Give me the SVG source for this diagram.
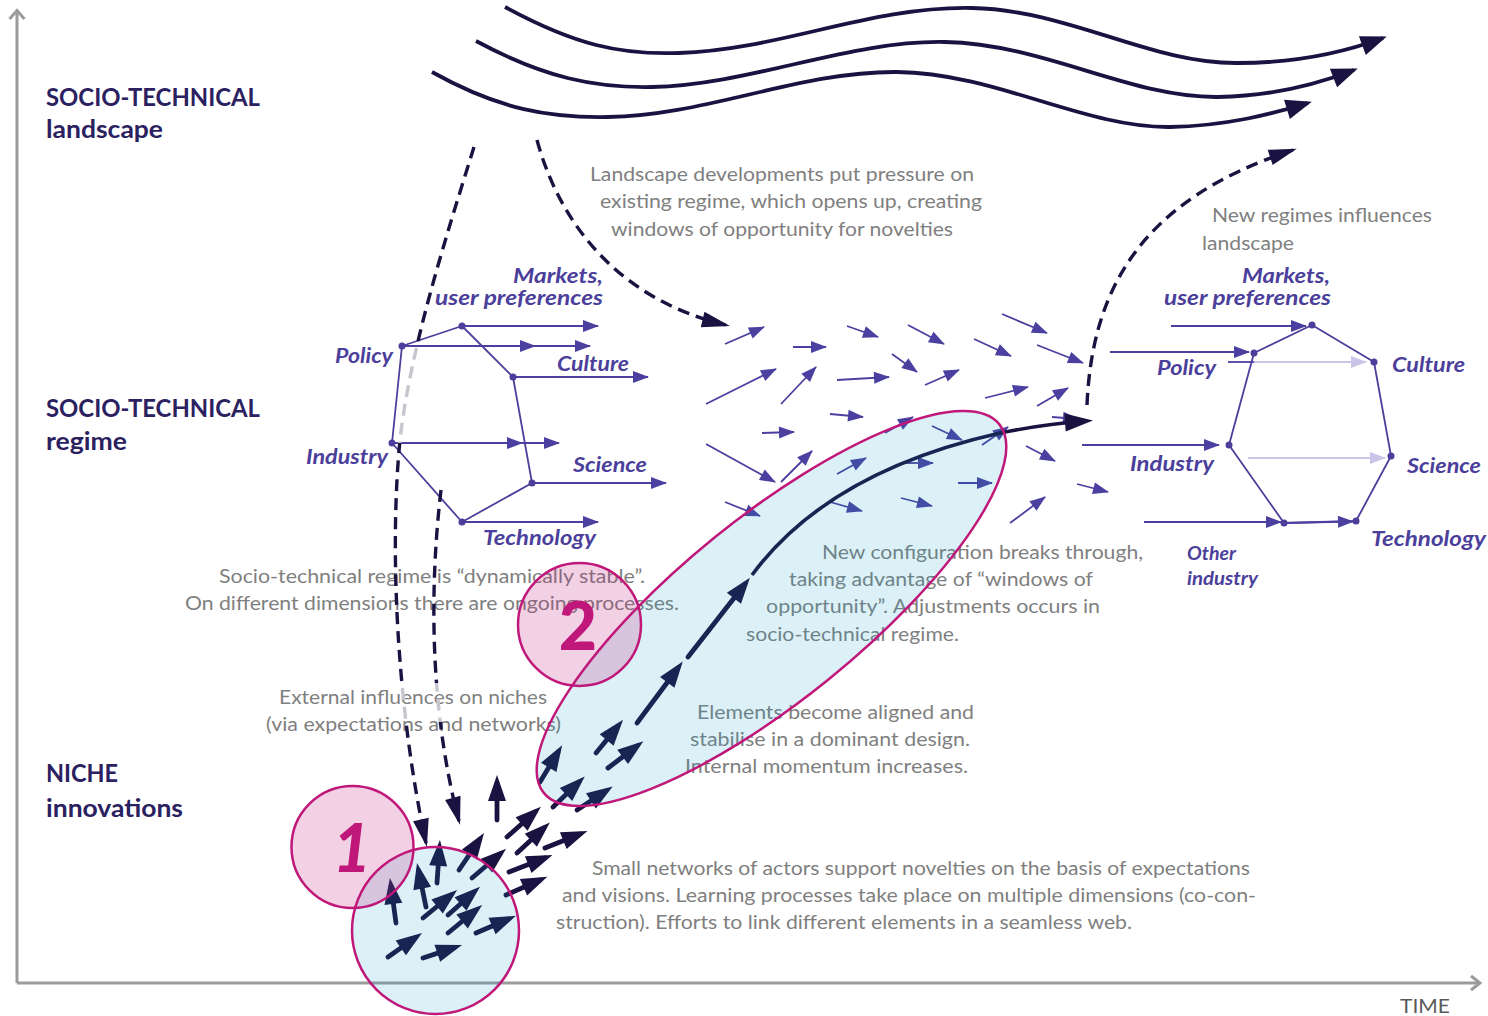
<svg xmlns="http://www.w3.org/2000/svg" width="1488" height="1016" viewBox="0 0 1488 1016">
<defs>
<style>
.gt{font-family:Lato,"Open Sans",sans-serif;font-size:18.5px;fill:#7f7f7f}
.hd{font-family:Lato,"Open Sans",sans-serif;font-weight:700;font-size:25px;fill:#2b2160}
.lb{font-family:Lato,"Open Sans",sans-serif;font-weight:700;font-style:italic;font-size:20px;fill:#4b3f9b}
.lbs{font-family:Lato,"Open Sans",sans-serif;font-weight:700;font-style:italic;font-size:18px;fill:#4b3f9b}
.pl{fill:none;stroke:#4b3f9b;stroke-width:1.8;stroke-linejoin:round}
.pa{fill:none;stroke:#4b40a0;stroke-width:1.8;marker-end:url(#hp)}
.pn{fill:none;stroke:#4b40a0;stroke-width:1.8}
.la{fill:none;stroke:#c9c5e8;stroke-width:1.8;marker-end:url(#hl)}
.dot{fill:#4b3f9b}
.wave{fill:none;stroke:#1a1240;stroke-width:3.8;marker-end:url(#hw)}
.dash{fill:none;stroke:#1a1240;stroke-width:3.4;stroke-dasharray:12 7}
.dashl{fill:none;stroke:#c6c6ce;stroke-width:3.4;stroke-dasharray:12 7}
.na{fill:none;stroke:#1a1240;stroke-width:4.8;stroke-linecap:round;marker-end:url(#hn)}
.axis{fill:none;stroke:#9b9b9b;stroke-width:3}
.blue{fill:#0a9bc6;fill-opacity:0.14;stroke:#c0187a;stroke-width:2.5}
.pink{fill:#c0187a;fill-opacity:0.2;stroke:#c0187a;stroke-width:2.5}
.dig{font-family:Lato,"Open Sans",sans-serif;font-weight:900;font-size:66px;fill:#c0187a}
</style>
<marker id="hp" markerUnits="userSpaceOnUse" markerWidth="16" markerHeight="12" refX="15" refY="6" orient="auto" overflow="visible"><path d="M0,0 L16,6 L0,12 z" fill="#4b40a0"/></marker>
<marker id="hl" markerUnits="userSpaceOnUse" markerWidth="16" markerHeight="12" refX="15" refY="6" orient="auto" overflow="visible"><path d="M0,0 L16,6 L0,12 z" fill="#c9c5e8"/></marker>
<marker id="hn" markerUnits="userSpaceOnUse" markerWidth="26" markerHeight="18" refX="18" refY="9" orient="auto" overflow="visible"><path d="M0,0 L26,9 L0,18 z" fill="#1a1240"/></marker>
<marker id="hd" markerUnits="userSpaceOnUse" markerWidth="28" markerHeight="16" refX="24" refY="8" orient="auto" overflow="visible"><path d="M0,0 L28,8 L0,16 z" fill="#1a1240"/></marker>
<marker id="hw" markerUnits="userSpaceOnUse" markerWidth="26" markerHeight="20" refX="22" refY="10" orient="auto" overflow="visible"><path d="M0,0 L26,10 L0,20 z" fill="#1a1240"/></marker>
<marker id="hm" markerUnits="userSpaceOnUse" markerWidth="28" markerHeight="18" refX="20" refY="9" orient="auto" overflow="visible"><path d="M0,0 L28,9 L0,18 z" fill="#1a1240"/></marker>
<clipPath id="clipLight"><rect x="370" y="347" width="110" height="96"/><rect x="370" y="683" width="110" height="39"/></clipPath>
<clipPath id="clipDark"><rect x="0" y="0" width="1488" height="347"/><rect x="0" y="443" width="1488" height="240"/><rect x="0" y="722" width="1488" height="300"/></clipPath>
</defs>

<g id="axes">
<line class="axis" x1="17" y1="983" x2="17" y2="11"/>
<polyline class="axis" stroke-width="2" points="9.5,19 17,10.5 24.5,19"/>
<line class="axis" x1="17" y1="983" x2="1479" y2="983"/>
<polyline class="axis" stroke-width="2" points="1471,976 1480,983 1471,990"/>
<text x="1400" y="1013" textLength="50" lengthAdjust="spacingAndGlyphs" style="font-family:Lato,sans-serif;font-size:20px;fill:#595959">TIME</text>
</g>

<g id="level-labels">
<text class="hd" x="46" y="106" textLength="214" lengthAdjust="spacingAndGlyphs">SOCIO-TECHNICAL</text>
<text class="hd" x="46" y="138" textLength="117" lengthAdjust="spacingAndGlyphs">landscape</text>
<text class="hd" x="46" y="417" textLength="214" lengthAdjust="spacingAndGlyphs">SOCIO-TECHNICAL</text>
<text class="hd" x="46" y="450" textLength="81" lengthAdjust="spacingAndGlyphs">regime</text>
<text class="hd" x="46" y="782" textLength="72" lengthAdjust="spacingAndGlyphs">NICHE</text>
<text class="hd" x="46" y="817" textLength="137" lengthAdjust="spacingAndGlyphs">innovations</text>
</g>

<g id="descriptions">
<text class="gt" x="590" y="181" textLength="384" lengthAdjust="spacingAndGlyphs">Landscape developments put pressure on</text>
<text class="gt" x="600" y="208" textLength="382" lengthAdjust="spacingAndGlyphs">existing regime, which opens up, creating</text>
<text class="gt" x="611" y="236" textLength="342" lengthAdjust="spacingAndGlyphs">windows of opportunity for novelties</text>
<text class="gt" x="1212" y="222" textLength="220" lengthAdjust="spacingAndGlyphs">New regimes influences</text>
<text class="gt" x="1202" y="250" textLength="92" lengthAdjust="spacingAndGlyphs">landscape</text>
<text class="gt" x="219" y="583" textLength="426" lengthAdjust="spacingAndGlyphs">Socio-technical regime is “dynamically stable”.</text>
<text class="gt" x="185" y="610" textLength="494" lengthAdjust="spacingAndGlyphs">On different dimensions there are ongoing processes.</text>
<text class="gt" x="279" y="704" textLength="268" lengthAdjust="spacingAndGlyphs">External influences on niches</text>
<text class="gt" x="266" y="731" textLength="295" lengthAdjust="spacingAndGlyphs">(via expectations and networks)</text>
<text class="gt" x="822" y="559" textLength="321" lengthAdjust="spacingAndGlyphs">New configuration breaks through,</text>
<text class="gt" x="789" y="586" textLength="304" lengthAdjust="spacingAndGlyphs">taking advantage of “windows of</text>
<text class="gt" x="766" y="613" textLength="334" lengthAdjust="spacingAndGlyphs">opportunity”. Adjustments occurs in</text>
<text class="gt" x="746" y="641" textLength="213" lengthAdjust="spacingAndGlyphs">socio-technical regime.</text>
<text class="gt" x="697" y="719" textLength="277" lengthAdjust="spacingAndGlyphs">Elements become aligned and</text>
<text class="gt" x="690" y="746" textLength="280" lengthAdjust="spacingAndGlyphs">stabilise in a dominant design.</text>
<text class="gt" x="685" y="773" textLength="283" lengthAdjust="spacingAndGlyphs">Internal momentum increases.</text>
<text class="gt" x="592" y="875" textLength="658" lengthAdjust="spacingAndGlyphs">Small networks of actors support novelties on the basis of expectations</text>
<text class="gt" x="562" y="902" textLength="694" lengthAdjust="spacingAndGlyphs">and visions. Learning processes take place on multiple dimensions (co-con-</text>
<text class="gt" x="556" y="929" textLength="576" lengthAdjust="spacingAndGlyphs">struction). Efforts to link different elements in a seamless web.</text>
</g>

<g id="regime-old">
<polygon class="pl" points="402,346 462,326 513,377 532,483 462,522 392,443"/>
<line class="pa" x1="462" y1="326" x2="598" y2="326"/>
<line class="pa" x1="402" y1="346" x2="535" y2="346"/>
<line class="pa" x1="535" y1="346" x2="590" y2="346"/>
<line class="pa" x1="513" y1="377" x2="648" y2="377"/>
<line class="pa" x1="392" y1="443" x2="522" y2="443"/>
<line class="pa" x1="522" y1="443" x2="559" y2="443"/>
<line class="pa" x1="532" y1="483" x2="666" y2="483"/>
<line class="pa" x1="462" y1="522" x2="598" y2="522"/>
<circle class="dot" cx="402" cy="346" r="3.5"/>
<circle class="dot" cx="462" cy="326" r="3.5"/>
<circle class="dot" cx="513" cy="377" r="3.5"/>
<circle class="dot" cx="532" cy="483" r="3.5"/>
<circle class="dot" cx="462" cy="522" r="3.5"/>
<circle class="dot" cx="392" cy="443" r="3.5"/>
<text class="lb" x="513" y="283" textLength="90" lengthAdjust="spacingAndGlyphs">Markets,</text>
<text class="lb" x="435" y="305" textLength="168" lengthAdjust="spacingAndGlyphs">user preferences</text>
<text class="lb" x="335" y="363" textLength="58" lengthAdjust="spacingAndGlyphs">Policy</text>
<text class="lb" x="557" y="371" textLength="72" lengthAdjust="spacingAndGlyphs">Culture</text>
<text class="lb" x="306" y="464" textLength="82" lengthAdjust="spacingAndGlyphs">Industry</text>
<text class="lb" x="573" y="472" textLength="74" lengthAdjust="spacingAndGlyphs">Science</text>
<text class="lb" x="483" y="545" textLength="113" lengthAdjust="spacingAndGlyphs">Technology</text>
</g>

<g id="regime-new">
<polygon class="pl" points="1312,325 1374,362 1391,456 1356,521 1284,523 1229,445 1254,353"/>
<line class="pa" x1="1171" y1="326" x2="1306" y2="326"/>
<line class="pa" x1="1110" y1="352" x2="1249" y2="352"/>
<line class="pn" x1="1228" y1="362" x2="1254" y2="362"/>
<line class="la" x1="1254" y1="362" x2="1366" y2="362"/>
<line class="pa" x1="1082" y1="445" x2="1219" y2="445"/>
<line class="la" x1="1248" y1="458" x2="1385" y2="458"/>
<line class="pa" x1="1144" y1="522" x2="1281" y2="522"/>
<line class="pa" x1="1284" y1="523" x2="1353" y2="521.5"/>
<circle class="dot" cx="1312" cy="325" r="3.5"/>
<circle class="dot" cx="1254" cy="353" r="3.5"/>
<circle class="dot" cx="1374" cy="362" r="3.5"/>
<circle class="dot" cx="1229" cy="445" r="3.5"/>
<circle class="dot" cx="1391" cy="456" r="3.5"/>
<circle class="dot" cx="1284" cy="523" r="3.5"/>
<circle class="dot" cx="1356" cy="521" r="3.5"/>
<text class="lb" x="1242" y="283" textLength="88" lengthAdjust="spacingAndGlyphs">Markets,</text>
<text class="lb" x="1164" y="305" textLength="167" lengthAdjust="spacingAndGlyphs">user preferences</text>
<text class="lb" x="1157" y="375" textLength="59" lengthAdjust="spacingAndGlyphs">Policy</text>
<text class="lb" x="1392" y="372" textLength="73" lengthAdjust="spacingAndGlyphs">Culture</text>
<text class="lb" x="1130" y="471" textLength="84" lengthAdjust="spacingAndGlyphs">Industry</text>
<text class="lb" x="1407" y="473" textLength="74" lengthAdjust="spacingAndGlyphs">Science</text>
<text class="lb" x="1371" y="546" textLength="115" lengthAdjust="spacingAndGlyphs">Technology</text>
<text class="lbs" x="1187" y="560" textLength="49" lengthAdjust="spacingAndGlyphs">Other</text>
<text class="lbs" x="1187" y="585" textLength="71" lengthAdjust="spacingAndGlyphs">industry</text>
</g>

<g id="regime-field">
<line class="pa" x1="725" y1="344" x2="764" y2="327"/>
<line class="pa" x1="793" y1="347" x2="826" y2="347"/>
<line class="pa" x1="847" y1="326" x2="878" y2="337"/>
<line class="pa" x1="908" y1="325" x2="944" y2="344"/>
<line class="pa" x1="1002" y1="314" x2="1047" y2="333"/>
<line class="pa" x1="706" y1="404" x2="776" y2="369"/>
<line class="pa" x1="781" y1="404" x2="816" y2="367"/>
<line class="pa" x1="837" y1="380" x2="889" y2="377"/>
<line class="pa" x1="892" y1="354" x2="917" y2="372"/>
<line class="pa" x1="925" y1="385" x2="959" y2="370"/>
<line class="pa" x1="974" y1="339" x2="1011" y2="356"/>
<line class="pa" x1="1037" y1="345" x2="1083" y2="363"/>
<line class="pa" x1="985" y1="398" x2="1028" y2="387"/>
<line class="pa" x1="1037" y1="406" x2="1068" y2="388"/>
<line class="pa" x1="830" y1="414" x2="863" y2="417"/>
<line class="pa" x1="762" y1="433" x2="794" y2="432"/>
<line class="pa" x1="706" y1="444" x2="775" y2="482"/>
<line class="pa" x1="781" y1="482" x2="812" y2="451"/>
<line class="pa" x1="885" y1="433" x2="913" y2="417"/>
<line class="pa" x1="932" y1="426" x2="962" y2="440"/>
<line class="pa" x1="982" y1="445" x2="1008" y2="427"/>
<line class="pa" x1="1052" y1="417" x2="1078" y2="419"/>
<line class="pa" x1="837" y1="474" x2="866" y2="458"/>
<line class="pa" x1="901" y1="463" x2="933" y2="463"/>
<line class="pa" x1="958" y1="483" x2="992" y2="483"/>
<line class="pa" x1="1026" y1="446" x2="1055" y2="461"/>
<line class="pa" x1="1077" y1="484" x2="1108" y2="492"/>
<line class="pa" x1="725" y1="502" x2="760" y2="516"/>
<line class="pa" x1="830" y1="502" x2="862" y2="511"/>
<line class="pa" x1="901" y1="498" x2="932" y2="506"/>
<line class="pa" x1="1010" y1="523" x2="1045" y2="497"/>
</g>

<g id="landscape">
<path class="wave" d="M505,7 C575,45 620,55 679,53 C780,50 870,6 972,8 C1070,10 1150,64 1238,63 C1295,63 1345,52 1383,38"/>
<path class="wave" d="M476,41 C545,78 595,88 652,87 C750,85 850,40 945,42 C1045,44 1130,98 1218,97 C1272,96 1318,84 1354,70"/>
<path class="wave" d="M432,72 C500,110 550,118 608,117 C705,116 800,71 897,72 C995,73 1085,128 1170,127 C1226,126 1272,114 1308,103"/>
</g>

<g id="connectors">
<g clip-path="url(#clipDark)">
<path class="dash" marker-end="url(#hd)" d="M474,147 C445,240 410,350 400,440 C390,540 395,700 426,843"/>
<path class="dash" marker-end="url(#hd)" d="M441,490 C428,600 432,720 459,821"/>
</g>
<g clip-path="url(#clipLight)">
<path class="dashl" d="M474,147 C445,240 410,350 400,440 C390,540 395,700 426,843"/>
<path class="dashl" d="M441,490 C428,600 432,720 459,821"/>
</g>
<path class="dash" marker-end="url(#hd)" d="M537,140 C560,225 620,300 726,325"/>
<path class="dash" marker-end="url(#hd)" d="M1087,405 C1092,290 1140,200 1293,150"/>
</g>

<g id="niche-arrows">
<line class="na" x1="497" y1="820" x2="497" y2="783"/>
<line class="na" x1="507" y1="837" x2="535" y2="812"/>
<line class="na" x1="517" y1="853" x2="544" y2="828"/>
<line class="na" x1="545" y1="848" x2="580" y2="834"/>
<line class="na" x1="509" y1="872" x2="545" y2="858"/>
<line class="na" x1="506" y1="895" x2="540" y2="880"/>
<line class="na" x1="459" y1="870" x2="479.5" y2="839.6"/>
<line class="na" x1="472" y1="878" x2="500" y2="854"/>
<line class="na" x1="437" y1="883" x2="439.4" y2="848"/>
<line class="na" x1="426" y1="907" x2="418.6" y2="870.8"/>
<line class="na" x1="396" y1="923" x2="391" y2="886"/>
<line class="na" x1="423" y1="918" x2="451" y2="895"/>
<line class="na" x1="448" y1="915" x2="474" y2="892"/>
<line class="na" x1="448" y1="933" x2="476" y2="910"/>
<line class="na" x1="476" y1="933" x2="508.6" y2="919"/>
<line class="na" x1="388" y1="957" x2="415.5" y2="937.6"/>
<line class="na" x1="423" y1="958" x2="454.4" y2="947.6"/>
<line class="na" x1="553" y1="807" x2="579" y2="782"/>
<line class="na" x1="577" y1="810" x2="606" y2="791"/>
<line class="na" x1="540" y1="782" x2="558" y2="752"/>
<line class="na" x1="596" y1="753" x2="618" y2="726"/>
<line class="na" x1="608" y1="768" x2="637" y2="746"/>
<line class="na" x1="637" y1="723" x2="678" y2="668"/>
<line class="na" x1="688" y1="657" x2="745" y2="584"/>
<path fill="none" stroke="#1a1240" stroke-width="3.6" marker-end="url(#hm)" d="M752,575 C800,510 880,460 1000,433 C1030,427 1058,423 1085,421"/>
</g>

<g id="window-2">
<ellipse class="blue" cx="771.5" cy="608.5" rx="293" ry="91" transform="rotate(-39 771.5 608.5)"/>
<circle class="pink" cx="579.5" cy="624.5" r="61.5"/>
<text class="dig" x="578" y="650" text-anchor="middle">2</text>
</g>

<g id="niche-1">
<circle class="blue" cx="435.5" cy="930.5" r="83.5"/>
<circle class="pink" cx="352.5" cy="847" r="61"/>
<text class="dig" x="352" y="872" text-anchor="middle" font-style="italic">1</text>
</g>
</svg>
